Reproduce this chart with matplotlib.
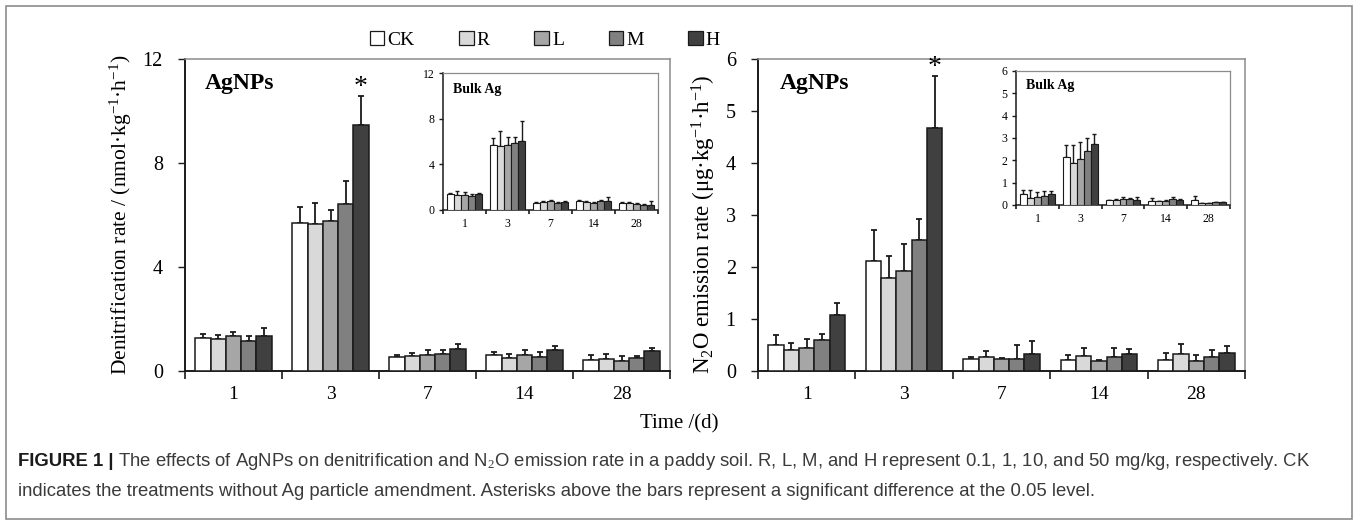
import matplotlib
matplotlib.use("Agg")
import matplotlib.pyplot as plt
from matplotlib.patches import Patch, Rectangle
import numpy as np

# ---------------- data ----------------
days = ["1", "3", "7", "14", "28"]
treatments = ["CK", "R", "L", "M", "H"]
colors = ["#ffffff", "#d9d9d9", "#a6a6a6", "#808080", "#404040"]

# Denitrification rate, AgNPs (main left)
den_CK = [1.28, 5.68, 0.53, 0.63, 0.41]
den_R = [1.22, 5.65, 0.58, 0.50, 0.45]
den_L = [1.35, 5.76, 0.63, 0.63, 0.40]
den_M = [1.15, 6.43, 0.65, 0.54, 0.50]
den_H = [1.36, 9.45, 0.83, 0.79, 0.76]
den_CK_err = [0.14, 0.64, 0.10, 0.12, 0.21]
den_R_err = [0.16, 0.82, 0.11, 0.17, 0.22]
den_L_err = [0.14, 0.43, 0.18, 0.17, 0.17]
den_M_err = [0.20, 0.89, 0.17, 0.21, 0.08]
den_H_err = [0.28, 1.14, 0.20, 0.18, 0.13]

# Denitrification rate, Bulk Ag (inset left)
denb_CK = [1.37, 5.72, 0.64, 0.82, 0.58]
denb_R = [1.28, 5.63, 0.73, 0.70, 0.61]
denb_L = [1.34, 5.69, 0.79, 0.64, 0.52]
denb_M = [1.23, 5.84, 0.61, 0.79, 0.47]
denb_H = [1.43, 6.07, 0.70, 0.76, 0.44]
denb_CK_err = [0.15, 0.61, 0.06, 0.05, 0.08]
denb_R_err = [0.41, 1.26, 0.05, 0.08, 0.12]
denb_L_err = [0.24, 0.73, 0.05, 0.05, 0.10]
denb_M_err = [0.17, 0.52, 0.06, 0.11, 0.08]
denb_H_err = [0.09, 1.75, 0.06, 0.35, 0.34]

# N2O emission rate, AgNPs (main right)
n2o_CK = [0.50, 2.12, 0.24, 0.21, 0.22]
n2o_R = [0.40, 1.78, 0.26, 0.29, 0.32]
n2o_L = [0.44, 1.93, 0.23, 0.20, 0.20]
n2o_M = [0.60, 2.52, 0.24, 0.26, 0.27]
n2o_H = [1.08, 4.68, 0.32, 0.33, 0.35]
n2o_CK_err = [0.19, 0.60, 0.02, 0.10, 0.12]
n2o_R_err = [0.14, 0.44, 0.12, 0.16, 0.20]
n2o_L_err = [0.18, 0.52, 0.02, 0.02, 0.10]
n2o_M_err = [0.12, 0.41, 0.26, 0.19, 0.14]
n2o_H_err = [0.22, 0.99, 0.26, 0.09, 0.13]

# N2O emission rate, Bulk Ag (inset right)
n2ob_CK = [0.49, 2.13, 0.22, 0.20, 0.22]
n2ob_R = [0.33, 1.88, 0.23, 0.17, 0.07]
n2ob_L = [0.34, 2.04, 0.27, 0.20, 0.09]
n2ob_M = [0.42, 2.42, 0.27, 0.26, 0.13]
n2ob_H = [0.48, 2.74, 0.22, 0.24, 0.12]
n2ob_CK_err = [0.18, 0.57, 0.02, 0.10, 0.18]
n2ob_R_err = [0.32, 0.82, 0.03, 0.03, 0.02]
n2ob_L_err = [0.26, 0.76, 0.11, 0.02, 0.02]
n2ob_M_err = [0.19, 0.57, 0.03, 0.11, 0.02]
n2ob_H_err = [0.15, 0.42, 0.14, 0.03, 0.02]

# significance: (group index, treatment index)
den_sig = [(1, 4)]
n2o_sig = [(1, 4)]

# ---------------- style ----------------
plt.rcParams["font.family"] = ["Liberation Serif", "DejaVu Serif"]
plt.rcParams["mathtext.fontset"] = "custom"
plt.rcParams["mathtext.rm"] = "Liberation Serif"
plt.rcParams["mathtext.it"] = "Liberation Serif:italic"
plt.rcParams["mathtext.bf"] = "Liberation Serif:bold"

W, H = 1358, 525
fig = plt.figure(figsize=(W / 100, H / 100), dpi=100)


def px_axes(x0, y0, x1, y1):
    return fig.add_axes([x0 / W, 1 - y1 / H, (x1 - x0) / W, (y1 - y0) / H])


def draw_bars(ax, means, errs, width, lw, capsize, elw, sig=None, inset=False):
    x = np.arange(len(days))
    for i, (m, e) in enumerate(zip(means, errs)):
        off = (i - 2) * width
        ax.bar(x + off, m, width, color=colors[i], edgecolor="#1a1a1a",
               linewidth=lw, zorder=3)
        ax.errorbar(x + off, m, yerr=[np.zeros(len(m)), e], fmt="none",
                    ecolor="#1a1a1a", elinewidth=elw, capsize=capsize,
                    capthick=elw, zorder=2)
    if sig:
        for g, t in sig:
            top = means[t][g] + errs[t][g]
            ax.annotate("*", xy=(g + (t - 2) * width, top), xytext=(0, -3),
                        textcoords="offset points", ha="center", va="bottom",
                        fontsize=20)
    ax.set_xlim(-0.5, len(days) - 0.5)
    ax.set_xticks(np.arange(len(days) + 1) - 0.5)
    ax.set_xticklabels([])
    ax.set_xticks(np.arange(len(days)), minor=True)
    ax.set_xticklabels(days, minor=True)
    ax.tick_params(axis="x", which="minor", length=0,
                   labelsize=8.5 if inset else 14, pad=6 if inset else 11)
    ax.tick_params(axis="x", which="major", direction="out",
                   length=3 if inset else 6, width=1.2, color="#1a1a1a")
    ax.tick_params(axis="y", direction="out", length=3 if inset else 5,
                   width=1.0, labelsize=8.5 if inset else 14.5,
                   pad=3 if inset else 11, color="#1a1a1a")
    for s in ["left", "bottom"]:
        ax.spines[s].set_color("#1a1a1a")
        ax.spines[s].set_linewidth(1.1 if inset else 1.4)
    for s in ["top", "right"]:
        ax.spines[s].set_color("#8c8c8c")
        ax.spines[s].set_linewidth(0.9 if inset else 1.1)


# main left
axL = px_axes(185, 59, 670, 371)
draw_bars(axL, [den_CK, den_R, den_L, den_M, den_H],
          [den_CK_err, den_R_err, den_L_err, den_M_err, den_H_err],
          0.157, 1.1, 2.5, 1.3, sig=den_sig)
axL.set_ylim(0, 12)
axL.set_yticks([0, 4, 8, 12])
axL.set_ylabel("Denitrification rate / (nmol·kg$^{-1}$·h$^{-1}$)", fontsize=15.5, labelpad=6)
axL.text(0.041, 0.92, "AgNPs", transform=axL.transAxes, fontsize=17,
         fontweight="bold", ha="left", va="center")

# inset left
axLi = px_axes(443, 73, 658, 210)
draw_bars(axLi, [denb_CK, denb_R, denb_L, denb_M, denb_H],
          [denb_CK_err, denb_R_err, denb_L_err, denb_M_err, denb_H_err],
          0.163, 0.8, 1.6, 1.0, inset=True)
axLi.set_ylim(0, 12)
axLi.set_yticks([0, 4, 8, 12])
axLi.text(0.047, 0.88, "Bulk Ag", transform=axLi.transAxes, fontsize=10,
          fontweight="bold", ha="left", va="center")

# main right
axR = px_axes(758, 59, 1245, 371)
draw_bars(axR, [n2o_CK, n2o_R, n2o_L, n2o_M, n2o_H],
          [n2o_CK_err, n2o_R_err, n2o_L_err, n2o_M_err, n2o_H_err],
          0.157, 1.1, 2.5, 1.3, sig=n2o_sig)
axR.set_ylim(0, 6)
axR.set_yticks(range(0, 7))
axR.set_ylabel("N$_2$O emission rate (μg·kg$^{-1}$·h$^{-1}$)", fontsize=16.5, labelpad=6)
axR.yaxis.set_label_coords(-0.082, 0.47)
axR.text(0.045, 0.92, "AgNPs", transform=axR.transAxes, fontsize=17,
         fontweight="bold", ha="left", va="center")

# inset right
axRi = px_axes(1016, 71, 1230, 205)
draw_bars(axRi, [n2ob_CK, n2ob_R, n2ob_L, n2ob_M, n2ob_H],
          [n2ob_CK_err, n2ob_R_err, n2ob_L_err, n2ob_M_err, n2ob_H_err],
          0.163, 0.8, 1.6, 1.0, inset=True)
axRi.set_ylim(0, 6)
axRi.set_yticks(range(0, 7))
axRi.text(0.047, 0.895, "Bulk Ag", transform=axRi.transAxes, fontsize=10,
          fontweight="bold", ha="left", va="center")

# legend
handles = [Patch(facecolor=c, edgecolor="#1a1a1a", linewidth=0.9) for c in colors]
fig.legend(handles, treatments, loc="center", bbox_to_anchor=(545 / W, 1 - 40 / H),
           ncol=5, frameon=False, fontsize=14, handlelength=0.75, handleheight=0.75,
           handletextpad=0.15, columnspacing=2.3, borderaxespad=0)

# x-axis title
fig.text(679 / W, 1 - 424 / H, "Time /(d)", ha="center", va="center", fontsize=15)

# outer frame
fig.patches.append(Rectangle((6 / W, 1 - 519 / H), (1352 - 6) / W, (519 - 6) / H,
                             transform=fig.transFigure, fill=False,
                             edgecolor="#8c8c8c", linewidth=1.2))

# caption
cap_font = ["Liberation Sans", "DejaVu Sans"]
cap_size = 13.3
renderer = fig.canvas.get_renderer()
t0 = fig.text(18 / W, 1 - 462 / H, "FIGURE 1 |", fontsize=cap_size, fontweight="bold",
              family=cap_font, color="#1a1a1a", va="center", ha="left")
bb = t0.get_window_extent(renderer)
fig.text((bb.x1 + 4) / W, 1 - 462 / H,
         "The effects of AgNPs on denitrification and N$_2$O emission rate in a paddy soil. "
         "R, L, M, and H represent 0.1, 1, 10, and 50 mg/kg, respectively. CK",
         fontsize=cap_size, family=cap_font, color="#3a3a3a", va="center", ha="left")
fig.text(18 / W, 1 - 491 / H,
         "indicates the treatments without Ag particle amendment. Asterisks above the bars "
         "represent a significant difference at the 0.05 level.",
         fontsize=cap_size, family=cap_font, color="#3a3a3a", va="center", ha="left")

fig.savefig("out.png", dpi=100)
